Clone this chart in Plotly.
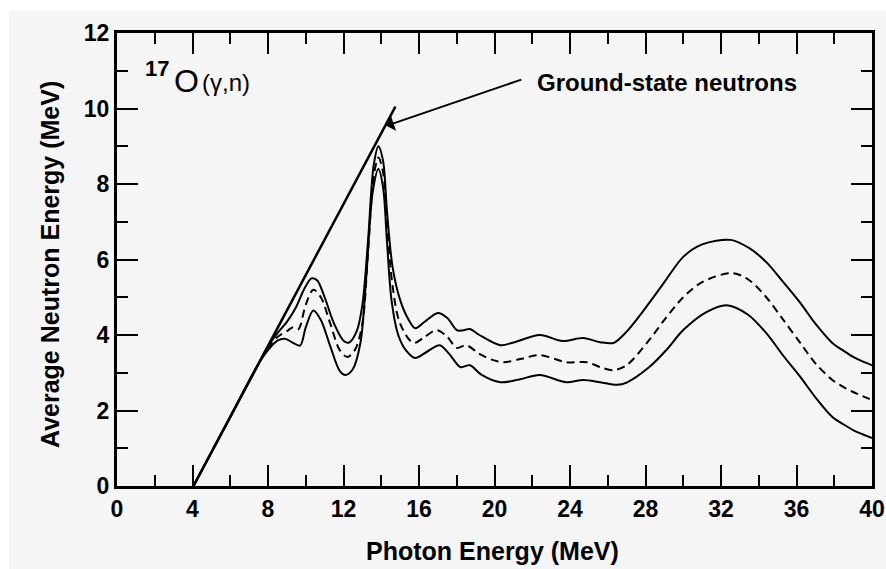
import plotly.graph_objects as go

# Ground-state neutron line
line_x = [4.05, 14.75]
line_y = [0.0, 10.05]

upper_x = [4.05, 6.0, 7.5, 8.0, 8.5, 9.0, 9.5, 9.9, 10.3, 10.6, 11.0, 11.5, 12.0, 12.3, 12.7, 13.0, 13.3, 13.6, 13.85, 14.1, 14.3, 14.6, 15.0, 15.4, 15.8, 16.3, 17.0, 17.5, 18.0, 18.3, 18.7, 19.2, 20.3, 21.0, 22.4, 23.6, 24.7, 25.6, 26.3, 27.0, 28.2, 29.0, 30.0, 31.0, 32.5, 33.5, 34.4, 35.3, 36.2, 37.0, 37.9, 38.5, 39.0, 39.5, 40.0]
upper_y = [0.0, 1.83, 3.24, 3.7, 4.05, 4.35, 4.75, 5.2, 5.5, 5.45, 5.0, 4.3, 3.85, 3.8, 4.1, 4.8, 6.5, 8.5, 9.0, 8.6, 7.3, 5.8, 4.93, 4.45, 4.18, 4.35, 4.58, 4.45, 4.13, 4.12, 4.16, 4.0, 3.73, 3.8, 4.0, 3.84, 3.92, 3.81, 3.79, 4.09, 4.85, 5.4, 6.07, 6.4, 6.52, 6.3, 5.93, 5.4, 4.85, 4.3, 3.79, 3.58, 3.42, 3.3, 3.2]

middle_x = [4.05, 6.0, 7.5, 8.0, 8.5, 9.0, 9.3, 9.6, 10.0, 10.4, 10.8, 11.3, 11.8, 12.2, 12.6, 13.0, 13.3, 13.6, 13.85, 14.1, 14.3, 14.6, 15.0, 15.7, 16.3, 16.95, 17.5, 18.0, 18.5, 19.2, 19.9, 20.5, 21.5, 22.4, 23.8, 24.9, 25.6, 26.3, 27.0, 28.2, 29.0, 30.0, 31.0, 32.6, 33.5, 34.4, 35.3, 36.2, 37.0, 37.9, 38.5, 39.0, 39.5, 40.0]
middle_y = [0.0, 1.83, 3.24, 3.65, 3.95, 4.1, 4.2, 4.15, 4.8, 5.2, 5.0, 4.3, 3.6, 3.42, 3.6, 4.3, 6.2, 8.2, 8.7, 8.3, 7.0, 5.3, 4.3, 3.79, 3.95, 4.13, 3.95, 3.66, 3.73, 3.5, 3.34, 3.28, 3.38, 3.47, 3.28, 3.28, 3.15, 3.07, 3.2, 3.87, 4.4, 5.0, 5.4, 5.64, 5.45, 5.0, 4.4, 3.79, 3.25, 2.81, 2.62, 2.49, 2.38, 2.28]

lower_x = [4.05, 6.0, 7.5, 8.0, 8.5, 8.9, 9.3, 9.7, 10.0, 10.4, 10.8, 11.3, 11.8, 12.1, 12.5, 12.9, 13.2, 13.55, 13.85, 14.1, 14.3, 14.55, 14.9, 15.3, 15.8, 16.4, 17.1, 17.6, 18.2, 18.7, 19.3, 20.3, 21.3, 22.4, 23.8, 24.7, 25.6, 26.5, 27.0, 28.2, 29.1, 30.0, 31.2, 32.3, 33.4, 34.4, 35.3, 36.2, 37.0, 37.9, 38.5, 39.0, 39.5, 40.0]
lower_y = [0.0, 1.83, 3.24, 3.6, 3.85, 3.9, 3.8, 3.72, 4.2, 4.65, 4.4, 3.7, 3.05, 2.94, 3.1, 3.8, 5.5, 7.8, 8.4, 7.9, 6.5, 4.9, 4.0, 3.6, 3.39, 3.55, 3.73, 3.5, 3.15, 3.2, 2.95, 2.75, 2.82, 2.94, 2.75, 2.81, 2.75, 2.68, 2.74, 3.15, 3.6, 4.13, 4.6, 4.79, 4.55, 4.05, 3.45, 2.89, 2.35, 1.83, 1.63, 1.48, 1.37, 1.27]

x_ticks = [0, 4, 8, 12, 16, 20, 24, 28, 32, 36, 40]
y_ticks = [0, 2, 4, 6, 8, 10, 12]

FONT = "Liberation Sans, Arial, sans-serif"
BG = "#f5f5f5"

fig = go.Figure()
fig.add_trace(go.Scatter(x=line_x, y=line_y, mode="lines",
                         line=dict(color="black", width=2.5), showlegend=False))
for xs, ys, dash in [(upper_x, upper_y, "solid"), (middle_x, middle_y, "8px,5px"), (lower_x, lower_y, "solid")]:
    fig.add_trace(go.Scatter(x=xs, y=ys, mode="lines",
                             line=dict(color="black", width=2, dash=dash, shape="spline", smoothing=0.9),
                             showlegend=False))

axis_common = dict(
    showgrid=False, zeroline=False, showline=True, linecolor="black", linewidth=3,
    mirror="ticks", ticks="inside", ticklen=21, tickwidth=2, tickcolor="black", automargin=False,
    tickfont=dict(family=FONT, size=23, color="black", weight="bold"),
)
fig.update_xaxes(range=[0, 40], tickvals=x_ticks, ticktext=[str(v) for v in x_ticks],
                 minor=dict(dtick=2, ticks="inside", ticklen=11, tickwidth=2, tickcolor="black"),
                 **axis_common)
fig.update_yaxes(range=[0, 12], tickvals=y_ticks, ticktext=[str(v) for v in y_ticks],
                 minor=dict(dtick=1, ticks="inside", ticklen=11, tickwidth=2, tickcolor="black"),
                 **axis_common)

ann = []
# arrow
ann.append(dict(x=14.26, y=9.54, ax=21.5, ay=10.78, xref="x", yref="y", axref="x", ayref="y",
                text="", showarrow=True, arrowhead=1, arrowsize=1.3, arrowwidth=2, arrowcolor="black"))
ann.append(dict(x=22.15, y=10.70, xref="x", yref="y", text="Ground-state neutrons", showarrow=False,
                xanchor="left", yanchor="middle", font=dict(family=FONT, size=24, color="black", weight="bold")))
ann.append(dict(x=1.38, y=11.05, xref="x", yref="y", text="17", showarrow=False, xanchor="left", yanchor="middle",
                font=dict(family=FONT, size=22, color="black", weight="bold")))
ann.append(dict(x=2.92, y=10.73, xref="x", yref="y", text="O", showarrow=False, xanchor="left", yanchor="middle",
                font=dict(family=FONT, size=32, color="black")))
ann.append(dict(x=4.40, y=10.70, xref="x", yref="y", text="(γ,n)", showarrow=False, xanchor="left", yanchor="middle",
                font=dict(family=FONT, size=24, color="black")))
ann.append(dict(x=0.4967, y=-0.1435, xref="paper", yref="paper", text="Photon Energy (MeV)",
                xanchor="center", yanchor="middle",
                showarrow=False, font=dict(family=FONT, size=25, color="black", weight="bold")))
ann.append(dict(x=-0.0887, y=0.488, xref="paper", yref="paper", text="Average Neutron Energy (MeV)",
                xanchor="center", yanchor="middle",
                showarrow=False, textangle=-90, font=dict(family=FONT, size=25, color="black", weight="bold")))

shapes = [
    dict(type="rect", xref="paper", yref="paper", x0=-0.2, x1=(9 - 117) / 755, y0=-0.3, y1=1.1,
         fillcolor="white", line=dict(width=0), layer="below"),
    dict(type="rect", xref="paper", yref="paper", x0=-0.2, x1=1.1, y0=(486 - 11) / 453, y1=1.1,
         fillcolor="white", line=dict(width=0), layer="below"),
]

fig.update_layout(
    width=886, height=569,
    margin=dict(l=117, r=14, t=33, b=83),
    paper_bgcolor=BG, plot_bgcolor=BG,
    annotations=ann, shapes=shapes,
)
fig.write_html("out.html")
